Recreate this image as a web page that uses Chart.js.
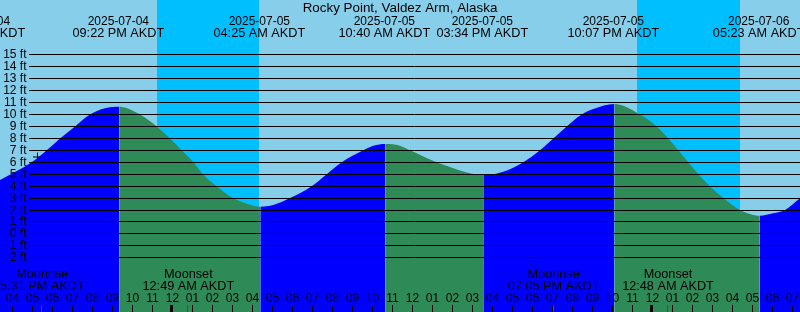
<!DOCTYPE html>
<html><head><meta charset="utf-8">
<script src="https://cdn.jsdelivr.net/npm/chart.js@4/dist/chart.umd.min.js"></script>
<style>html,body{margin:0;padding:0;background:#87CEEB;overflow:hidden}canvas{display:block}</style>
</head><body>
<canvas id="c" width="800" height="312"></canvas>
<script>
// All times: hours since 2025-07-04 00:00 AKDT
const chartTitle = 'Rocky Point, Valdez Arm, Alaska';
const viewStart = 15.4, viewEnd = 55.4;
const feetMin = -6.54, feetMax = 19.59;

const tideHours = [15.4, 16.985, 17.735, 18.4, 19.15, 19.9, 20.65, 21.367, 22.4, 23.235, 23.9, 24.485, 25.065, 25.55, 26.235, 27.05, 27.735, 28.417, 29.065, 29.9, 30.985, 31.735, 32.485, 33.565, 34.065, 34.667, 35.4, 35.9, 37.235, 37.9, 38.735, 39.567, 40.6, 41.565, 42.4, 43.065, 43.735, 44.485, 45.065, 46.117, 47.4, 48.235, 48.815, 49.315, 49.815, 50.315, 50.9, 51.565, 52.4, 52.9, 53.383, 54.065, 54.65, 55.4];
const tideFeet  = [4.51, 6, 7, 8, 9, 10, 10.52, 10.65, 10, 9, 8, 7, 6, 5, 4, 3, 2.53, 2.28, 2.42, 3, 4, 5, 6, 7, 7.39, 7.53, 7.39, 7, 6, 5.6, 5.15, 4.93, 5.23, 6, 7, 8, 9, 10, 10.46, 10.88, 10, 9, 8, 7, 6, 5, 4, 3, 2, 1.67, 1.52, 1.72, 2, 2.98];

const eventHours = [14.42, 21.367, 28.417, 34.667, 39.567, 46.117, 53.383];
const eventDates = ['2025-07-04', '2025-07-04', '2025-07-05', '2025-07-05', '2025-07-05', '2025-07-05', '2025-07-06'];
const eventTimes = ['02:25 PM AKDT', '09:22 PM AKDT', '04:25 AM AKDT', '10:40 AM AKDT', '03:34 PM AKDT', '10:07 PM AKDT', '05:23 AM AKDT'];

const nightStarts = [23.235, 47.235];
const nightEnds = [28.35, 52.4];

const moonHours = [17.517, 24.817, 43.083, 48.8];
const moonNames = ['Moonrise', 'Moonset', 'Moonrise', 'Moonset'];
const moonTimes = ['5:31 PM AKDT', '12:49 AM AKDT', '07:05 PM AKDT', '12:48 AM AKDT'];

const nowHour = [17.275];
const nowFeet = [6.44];

const yTickFeet = [-2, -1, 0, 1, 2, 3, 4, 5, 6, 7, 8, 9, 10, 11, 12, 13, 14, 15];

const SKY = '#87CEEB', NIGHT = '#00BFFF', RISE = '#0000FF', FALL = '#2E8B57';
const FAM = '"Liberation Sans", Arial, sans-serif';
const F12 = '12px ' + FAM, F125 = '12.7px ' + FAM, F13 = '13.4px ' + FAM;

const overlay = {
  id: 'overlay',
  beforeDatasetsDraw(chart) {
    const {ctx, chartArea: a, scales: {x}} = chart;
    ctx.save();
    ctx.fillStyle = SKY;
    ctx.fillRect(a.left, a.top, a.right - a.left, a.bottom - a.top);
    ctx.fillStyle = NIGHT;
    nightStarts.forEach((s, i) => {
      const x0 = Math.round(x.getPixelForValue(s)), x1 = Math.round(x.getPixelForValue(nightEnds[i]));
      ctx.fillRect(x0, a.top, x1 - x0, a.bottom - a.top);
    });
    ctx.restore();
  },
  afterDatasetsDraw(chart) {
    const {ctx, chartArea: a, scales: {x, y}} = chart;
    ctx.save();
    ctx.fillStyle = '#000';
    ctx.strokeStyle = '#000';
    ctx.lineWidth = 1;
    // horizontal grid + labels
    ctx.font = F12;
    yTickFeet.forEach(v => {
      const py = Math.floor(y.getPixelForValue(v)) + 0.5;
      ctx.beginPath(); ctx.moveTo(29, py); ctx.lineTo(a.right, py); ctx.stroke();
      ctx.textAlign = 'right'; ctx.textBaseline = 'middle';
      ctx.fillText(v + ' ft', 26.5, py + 0.5);
    });
    // title
    ctx.textAlign = 'center'; ctx.textBaseline = 'alphabetic';
    ctx.font = F13;
    ctx.fillText(chartTitle, 400, 12);
    // tide event labels
    eventHours.forEach((h, i) => {
      const px = x.getPixelForValue(h) - 1;
      ctx.font = F12;
      ctx.fillText(eventDates[i], px, 24.5);
      ctx.font = F125;
      ctx.fillText(eventTimes[i], px, 36.5);
    });
    // moon labels
    ctx.font = F125;
    moonHours.forEach((h, i) => {
      const px = x.getPixelForValue(h);
      ctx.fillText(moonNames[i], px, 278);
      ctx.fillText(moonTimes[i], px, 289.5);
    });
    // hour ticks
    ctx.font = F12;
    for (let h = Math.ceil(x.min); h <= Math.floor(x.max); h++) {
      const px = Math.round(x.getPixelForValue(h));
      const lbl = String((h % 12) || 12).padStart(2, '0');
      ctx.fillText(lbl, px + 0.5, 301.5);
      if (h % 24 === 0) {
        ctx.fillRect(px - 2, 305, 3, 7);
      } else {
        ctx.fillRect(px, 305, 1, 7);
      }
    }
    ctx.fillStyle = '#FF0000';
    moonHours.forEach(h => {
      const px = Math.round(x.getPixelForValue(h));
      ctx.fillRect(px - 1, 305, 1, 7);
    });
    ctx.restore();
  }
};

new Chart(document.getElementById('c'), {
  type: 'line',
  data: {
    datasets: [{
      data: tideHours.map((h, i) => ({x: h, y: tideFeet[i]})),
      fill: 'start',
      backgroundColor: RISE,
      borderColor: 'rgba(0,0,0,0)',
      borderWidth: 0,
      pointRadius: 0,
      cubicInterpolationMode: 'monotone',
      segment: {
        backgroundColor: c => (c.p1.parsed.y >= c.p0.parsed.y ? RISE : FALL)
      }
    }, {
      data: nowHour.map((h, i) => ({x: h, y: nowFeet[i]})),
      showLine: false,
      fill: false,
      pointStyle: 'cross',
      pointRadius: 4.5,
      borderColor: '#000',
      borderWidth: 1
    }]
  },
  options: {
    responsive: false,
    animation: false,
    devicePixelRatio: 1,
    layout: {padding: 0, autoPadding: false},
    plugins: {legend: {display: false}, tooltip: {enabled: false}, title: {display: false}},
    scales: {
      x: {type: 'linear', min: viewStart, max: viewEnd, display: false},
      y: {type: 'linear', min: feetMin, max: feetMax, display: false}
    }
  },
  plugins: [overlay]
});
</script>
</body></html>
